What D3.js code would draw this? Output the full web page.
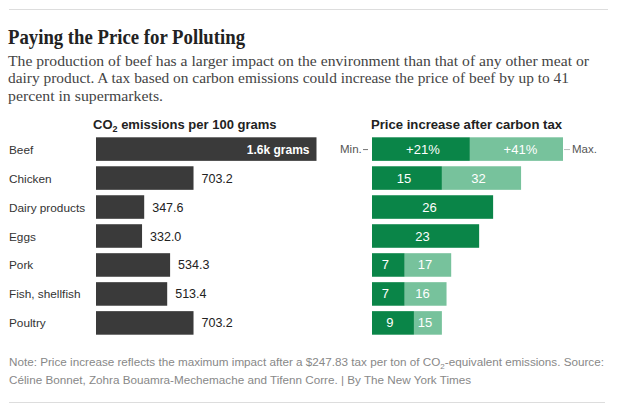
<!DOCTYPE html>
<html>
<head>
<meta charset="utf-8">
<script src="https://cdn.jsdelivr.net/npm/d3@7"></script>
<style>
  html, body { margin: 0; padding: 0; background: #fff; }
  svg { display: block; }
</style>
</head>
<body>
<div id="chart"></div>
<script>
// ---- Data ----
const categories = ["Beef", "Chicken", "Dairy products", "Eggs", "Pork", "Fish, shellfish", "Poultry"];
const emissions = [1590, 703.2, 347.6, 332.0, 534.3, 513.4, 703.2];
const emissionLabels = ["1.6k grams", "703.2", "347.6", "332.0", "534.3", "513.4", "703.2"];
const priceMin = [21, 15, 26, 23, 7, 7, 9];
const priceMax = [41, 32, 26, 23, 17, 16, 15];

const titleText = "Paying the Price for Polluting";
const subtitleLines = [
  "The production of beef has a larger impact on the environment than that of any other meat or",
  "dairy product. A tax based on carbon emissions could increase the price of beef by up to 41",
  "percent in supermarkets."
];

const W = 624, H = 412;
const svg = d3.select("#chart").append("svg").attr("width", W).attr("height", H);

const sans = "'Liberation Sans', Arial, sans-serif";
const serif = "'Liberation Serif', Georgia, serif";

// rules
svg.append("line").attr("x1", 9).attr("x2", 608).attr("y1", 9.5).attr("y2", 9.5)
  .attr("stroke", "#ddd").attr("stroke-width", 1);
svg.append("line").attr("x1", 9).attr("x2", 605).attr("y1", 402.5).attr("y2", 402.5)
  .attr("stroke", "#ddd").attr("stroke-width", 1);

// title
svg.append("text").attr("x", 8).attr("y", 44)
  .attr("font-family", serif).attr("font-weight", "bold").attr("font-size", 21)
  .attr("fill", "#222").attr("textLength", 237).attr("lengthAdjust", "spacingAndGlyphs")
  .text(titleText);

// subtitle
const subW = [581, 561, 155];
subtitleLines.forEach((t, i) => {
  svg.append("text").attr("x", 8).attr("y", 66 + i * 17.4)
    .attr("font-family", serif).attr("font-size", 15.5).attr("fill", "#444")
    .attr("textLength", subW[i]).attr("lengthAdjust", "spacingAndGlyphs")
    .text(t);
});

// scales
const y = d3.scaleBand().domain(categories).range([137.3, 334.7]).paddingInner(0.187).paddingOuter(0);
const xL = d3.scaleLinear().domain([0, 1590]).range([96, 316.5]);
const xR = d3.scaleLinear().domain([0, 41]).range([372, 563]);

const rows = categories.map((c, i) => ({
  cat: c, em: emissions[i], emLabel: emissionLabels[i], mn: priceMin[i], mx: priceMax[i], i
}));

// headers
const hdrL = svg.append("text").attr("x", 93).attr("y", 129)
  .attr("font-family", sans).attr("font-weight", "bold").attr("font-size", 13).attr("fill", "#222");
hdrL.append("tspan").text("CO");
hdrL.append("tspan").attr("font-size", 9).attr("dy", 3).text("2");
hdrL.append("tspan").attr("dy", -3).text(" emissions per 100 grams");

svg.append("text").attr("x", 371).attr("y", 129)
  .attr("font-family", sans).attr("font-weight", "bold").attr("font-size", 13.5).attr("fill", "#222")
  .attr("textLength", 191).attr("lengthAdjust", "spacingAndGlyphs")
  .text("Price increase after carbon tax");

// category labels
svg.append("g").selectAll("text").data(rows).join("text")
  .attr("x", 9).attr("y", d => y(d.cat) + y.bandwidth() / 2 + 4.5)
  .attr("font-family", sans).attr("font-size", 11.8).attr("fill", "#333")
  .text(d => d.cat);

// left bars
svg.append("g").selectAll("rect").data(rows).join("rect")
  .attr("x", xL(0)).attr("y", d => y(d.cat))
  .attr("width", d => xL(d.em) - xL(0)).attr("height", y.bandwidth())
  .attr("fill", "#3a3a3a");

svg.append("g").selectAll("text").data(rows).join("text")
  .attr("x", d => d.i === 0 ? xL(d.em) - 7 : xL(d.em) + 8)
  .attr("y", d => y(d.cat) + y.bandwidth() / 2 + 4.5)
  .attr("text-anchor", d => d.i === 0 ? "end" : "start")
  .attr("font-family", sans).attr("font-size", d => d.i === 0 ? 12 : 12.5)
  .attr("font-weight", d => d.i === 0 ? "bold" : "normal")
  .attr("fill", d => d.i === 0 ? "#fff" : "#222")
  .text(d => d.emLabel);

// right bars
const dark = "#0a8548", light = "#77c29c";
svg.append("g").selectAll("rect").data(rows.filter(d => d.mx > d.mn)).join("rect")
  .attr("x", d => xR(d.mn)).attr("y", d => y(d.cat))
  .attr("width", d => xR(d.mx) - xR(d.mn)).attr("height", y.bandwidth())
  .attr("fill", light);
svg.append("g").selectAll("rect").data(rows).join("rect")
  .attr("x", xR(0)).attr("y", d => y(d.cat))
  .attr("width", d => xR(d.mn) - xR(0)).attr("height", y.bandwidth())
  .attr("fill", dark);

const fmt = (v, i) => i === 0 ? "+" + v + "%" : String(v);
svg.append("g").selectAll("text").data(rows).join("text")
  .attr("x", d => (xR(0) + xR(d.mn)) / 2 + (d.i === 0 ? 2 : -3))
  .attr("y", d => y(d.cat) + y.bandwidth() / 2 + 4.5)
  .attr("text-anchor", "middle")
  .attr("font-family", sans).attr("font-size", 13).attr("fill", "#fff")
  .text(d => fmt(d.mn, d.i));
svg.append("g").selectAll("text").data(rows.filter(d => d.mx > d.mn)).join("text")
  .attr("x", d => (xR(d.mn) + xR(d.mx)) / 2 + (d.i === 0 ? 4 : -3))
  .attr("y", d => y(d.cat) + y.bandwidth() / 2 + 4.5)
  .attr("text-anchor", "middle")
  .attr("font-family", sans).attr("font-size", 13).attr("fill", "#fff")
  .text(d => fmt(d.mx, d.i));

// Min / Max annotations
const by = y(categories[0]) + y.bandwidth() / 2;
svg.append("text").attr("x", 340).attr("y", by + 4)
  .attr("font-family", sans).attr("font-size", 11.5).attr("fill", "#555").text("Min.");
svg.append("line").attr("x1", 363).attr("x2", 368).attr("y1", by + 0.5).attr("y2", by + 0.5)
  .attr("stroke", "#777").attr("stroke-width", 1);
svg.append("line").attr("x1", xR(priceMax[0]) + 1.5).attr("x2", xR(priceMax[0]) + 6.5).attr("y1", by + 0.5).attr("y2", by + 0.5)
  .attr("stroke", "#777").attr("stroke-width", 1).attr("stroke-dasharray", "1,1");
svg.append("text").attr("x", 572).attr("y", by + 4)
  .attr("font-family", sans).attr("font-size", 11.5).attr("fill", "#555").text("Max.");

// note
const n1 = svg.append("text").attr("x", 9).attr("y", 366)
  .attr("font-family", sans).attr("font-size", 11.7).attr("fill", "#888");
n1.append("tspan").text("Note: Price increase reflects the maximum impact after a $247.83 tax per ton of CO");
n1.append("tspan").attr("font-size", 8).attr("dy", 3).text("2");
n1.append("tspan").attr("dy", -3).text("-equivalent emissions. Source:");
svg.append("text").attr("x", 9).attr("y", 384)
  .attr("font-family", sans).attr("font-size", 11.7).attr("fill", "#888")
  .text("Céline Bonnet, Zohra Bouamra-Mechemache and Tifenn Corre. | By The New York Times");
</script>
</body>
</html>
